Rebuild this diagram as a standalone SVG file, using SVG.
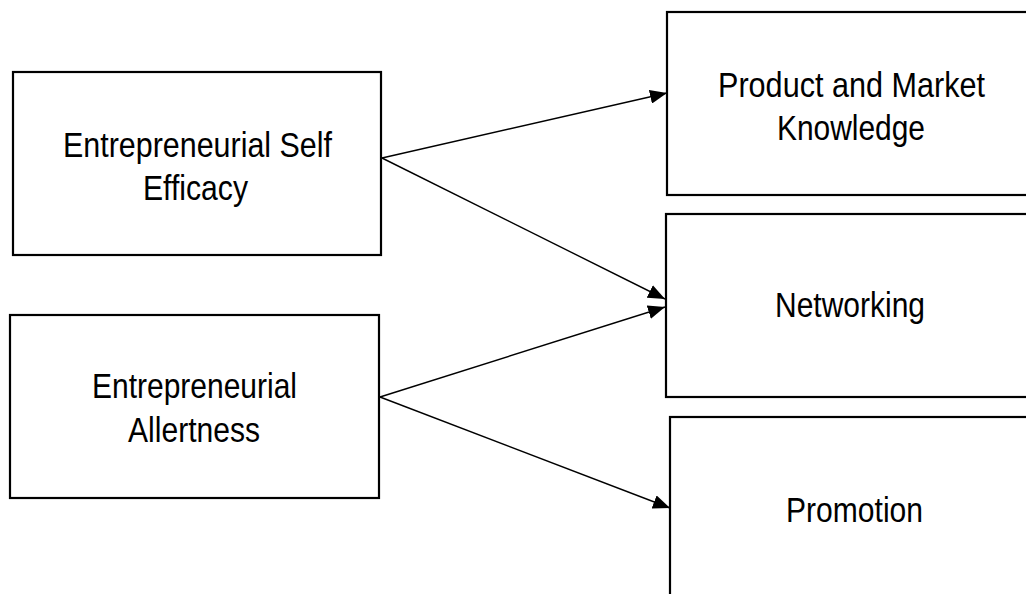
<svg xmlns="http://www.w3.org/2000/svg" width="1026" height="594" viewBox="0 0 1026 594">
<style>
.box{fill:#fff;stroke:#000;stroke-width:2.2}
.lbl{font-family:"Liberation Sans",Arial,sans-serif;font-size:34.5px;fill:#000;text-anchor:middle}
.con{stroke:#000;stroke-width:1.4;fill:none;marker-end:url(#ah)}
</style>
<defs>
<marker id="ah" markerUnits="userSpaceOnUse" markerWidth="18" markerHeight="14" refX="17" refY="7" orient="auto">
<path d="M0,0 L17,7 L0,14 Z" fill="#000"/>
</marker>
</defs>
<rect width="1026" height="594" fill="#fff"/>
<g id="node-ese">
<rect class="box" x="13" y="72" width="368" height="183"/>
<text class="lbl" x="197.5" y="157" textLength="269" lengthAdjust="spacingAndGlyphs">Entrepreneurial Self</text>
<text class="lbl" x="195.5" y="200" textLength="105" lengthAdjust="spacingAndGlyphs">Efficacy</text>
</g>
<g id="node-ea">
<rect class="box" x="10" y="315" width="369" height="183"/>
<text class="lbl" x="194.5" y="398" textLength="205" lengthAdjust="spacingAndGlyphs">Entrepreneurial</text>
<text class="lbl" x="194" y="442" textLength="132" lengthAdjust="spacingAndGlyphs">Allertness</text>
</g>
<g id="node-pmk">
<rect class="box" x="667" y="12" width="380" height="183"/>
<text class="lbl" x="851.5" y="97" textLength="267" lengthAdjust="spacingAndGlyphs">Product and Market</text>
<text class="lbl" x="851" y="140" textLength="148" lengthAdjust="spacingAndGlyphs">Knowledge</text>
</g>
<g id="node-net">
<rect class="box" x="666" y="214" width="380" height="183"/>
<text class="lbl" x="850" y="317" textLength="150" lengthAdjust="spacingAndGlyphs">Networking</text>
</g>
<g id="node-promo">
<rect class="box" x="670" y="417" width="380" height="200"/>
<text class="lbl" x="854.5" y="522" textLength="137" lengthAdjust="spacingAndGlyphs">Promotion</text>
</g>
<g id="connectors">
<line class="con" x1="382" y1="158" x2="667" y2="93"/>
<line class="con" x1="382" y1="158" x2="665" y2="299"/>
<line class="con" x1="380" y1="397" x2="665" y2="307"/>
<line class="con" x1="380" y1="397" x2="670" y2="508"/>
</g>
</svg>
